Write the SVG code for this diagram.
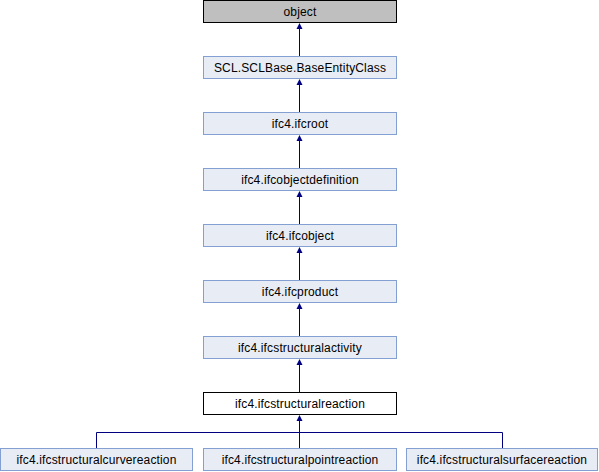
<svg xmlns="http://www.w3.org/2000/svg" width="599" height="472" viewBox="0 0 599 472">
<style>
.box{fill:#e8ecf5;stroke:#84a0d2;stroke-width:1}
.root{fill:#bfbfbf;stroke:#000000;stroke-width:1}
.cur{fill:#ffffff;stroke:#000000;stroke-width:1}
text{font-family:"Liberation Sans",Arial,sans-serif;font-size:12px;letter-spacing:0.15px;fill:#000000;text-anchor:middle}
.edge{stroke:#000080;stroke-width:1;fill:none}
.ah{fill:#000080;stroke:none}
</style>
<rect width="599" height="472" fill="#ffffff"/>
<g id="connectors">
<path class="edge" d="M299.5,29V56M299.5,85V112M299.5,141V168M299.5,197V224M299.5,253V280M299.5,309V336M299.5,365V392M299.5,421V448M96.5,432.5H502.5M96.5,432.5V448M502.5,432.5V448"/>
<polygon class="ah" points="299.5,23 296.5,29 302.5,29"/>
<polygon class="ah" points="299.5,79 296.5,85 302.5,85"/>
<polygon class="ah" points="299.5,135 296.5,141 302.5,141"/>
<polygon class="ah" points="299.5,191 296.5,197 302.5,197"/>
<polygon class="ah" points="299.5,247 296.5,253 302.5,253"/>
<polygon class="ah" points="299.5,303 296.5,309 302.5,309"/>
<polygon class="ah" points="299.5,359 296.5,365 302.5,365"/>
<polygon class="ah" points="299.5,415 296.5,421 302.5,421"/>
</g>
<g id="object"><rect class="root" x="203.5" y="0.5" width="193" height="22"/><text x="300" y="16">object</text></g>
<g id="BaseEntityClass"><rect class="box" x="203.5" y="56.5" width="193" height="22"/><text x="300" y="72">SCL.SCLBase.BaseEntityClass</text></g>
<g id="ifcroot"><rect class="box" x="203.5" y="112.5" width="193" height="22"/><text x="300" y="128">ifc4.ifcroot</text></g>
<g id="ifcobjectdefinition"><rect class="box" x="203.5" y="168.5" width="193" height="22"/><text x="300" y="184">ifc4.ifcobjectdefinition</text></g>
<g id="ifcobject"><rect class="box" x="203.5" y="224.5" width="193" height="22"/><text x="300" y="240">ifc4.ifcobject</text></g>
<g id="ifcproduct"><rect class="box" x="203.5" y="280.5" width="193" height="22"/><text x="300" y="296">ifc4.ifcproduct</text></g>
<g id="ifcstructuralactivity"><rect class="box" x="203.5" y="336.5" width="193" height="22"/><text x="300" y="352">ifc4.ifcstructuralactivity</text></g>
<g id="ifcstructuralreaction"><rect class="cur" x="203.5" y="392.5" width="193" height="22"/><text x="300" y="408">ifc4.ifcstructuralreaction</text></g>
<g id="ifcstructuralcurvereaction"><rect class="box" x="0.5" y="448.5" width="192" height="22"/><text x="96.5" y="464">ifc4.ifcstructuralcurvereaction</text></g>
<g id="ifcstructuralpointreaction"><rect class="box" x="203.5" y="448.5" width="193" height="22"/><text x="300" y="464">ifc4.ifcstructuralpointreaction</text></g>
<g id="ifcstructuralsurfacereaction"><rect class="box" x="406.5" y="448.5" width="191" height="22"/><text x="502" y="464">ifc4.ifcstructuralsurfacereaction</text></g>
</svg>
